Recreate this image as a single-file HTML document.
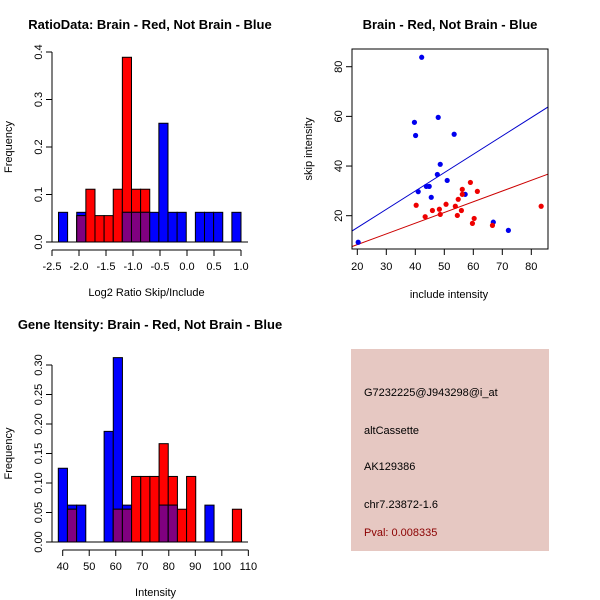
<!DOCTYPE html>
<html><head><meta charset="utf-8"><style>
body{margin:0;background:#fff}
svg{display:block;font-family:"Liberation Sans",sans-serif}
</style></head><body>
<svg id="c" width="600" height="600" xmlns="http://www.w3.org/2000/svg">
<rect width="600" height="600" fill="#fff"/>
</svg>
<script>
// ---- Ratio histogram data ----
const ratioBinStart = -2.38;
const ratioBinWidth = 0.169;
const ratioBlueCounts = [1,0,1,0,0,0,0,1,1,1,1,4,1,1,0,1,1,1,0,1];
const ratioRedCounts  = [0,0,1,2,1,1,2,7,2,2,0,0,0,0,0,0,0,0,0,0];
const ratioXTicks = [-2.5,-2.0,-1.5,-1.0,-0.5,0.0,0.5,1.0];
const ratioXTickLabels = ["-2.5","-2.0","-1.5","-1.0","-0.5","0.0","0.5","1.0"];
const ratioYTicks = [0,0.1,0.2,0.3,0.4];
const ratioYTickLabels = ["0.0","0.1","0.2","0.3","0.4"];
// ---- Intensity histogram data ----
const intBinStart = 38.34;
const intBinWidth = 3.455;
const intBlueCounts = [2,1,1,0,0,3,5,1,0,0,0,1,1,0,0,0,1,0,0,0];
const intRedCounts  = [0,1,0,0,0,0,1,1,2,2,2,3,2,1,2,0,0,0,0,1];
const intXTicks = [40,50,60,70,80,90,100,110];
const intXTickLabels = ["40","50","60","70","80","90","100","110"];
const intYTicks = [0,0.05,0.1,0.15,0.2,0.25,0.3];
const intYTickLabels = ["0.00","0.05","0.10","0.15","0.20","0.25","0.30"];
// ---- Scatter data ----
const blueInclude = [42.2,39.7,40.1,47.9,53.4,48.6,47.6,51.0,43.8,44.8,41.0,45.5,57.2,66.9,72.1,20.3];
const blueSkip    = [83.8,57.6,52.3,59.6,52.8,40.7,36.6,34.2,31.8,31.8,29.7,27.4,28.6,17.4,14.1,9.3];
const redInclude  = [40.3,43.4,45.9,48.3,48.6,50.6,53.8,54.8,54.5,55.9,56.2,56.2,59.0,61.4,60.3,59.7,66.6,83.4];
const redSkip     = [24.2,19.6,22.1,22.6,20.5,24.6,23.8,26.6,20.1,22.1,30.6,28.6,33.4,29.8,18.9,16.9,16.1,23.8];
const fitIntercepts = [0.4,-0.27];   // blue, red
const fitSlopes = [0.739,0.4315];
const scXTicks = [20,30,40,50,60,70,80];
const scYTicks = [20,40,60,80];

const NS="http://www.w3.org/2000/svg";
const svg=document.getElementById('c');
function mk(tag,attrs,parent){const e=document.createElementNS(NS,tag);for(const k in attrs)e.setAttribute(k,attrs[k]);(parent||svg).appendChild(e);return e;}
function txt(s,x,y,size,anchor,rot,parent,weight,fill){const t=mk('text',{x:x,y:y,'font-size':size,'text-anchor':anchor||'middle',fill:fill||'#000'},parent);if(weight)t.setAttribute('font-weight',weight);if(rot)t.setAttribute('transform','rotate(-90 '+x+' '+y+')');t.textContent=s;return t;}

function histogram(cfg){
  const g=mk('g',{});
  
  
  const xs=v=>cfg.xorg+(v-cfg.xmin)*cfg.xscale;
  const ys=v=>cfg.y0-(v-0)*cfg.yscale;
  const nb=cfg.blue.reduce((a,b)=>a+b,0), nr=cfg.red.reduce((a,b)=>a+b,0);
  for(let i=0;i<cfg.blue.length;i++){
    const l=xs(cfg.start+i*cfg.width), r=xs(cfg.start+(i+1)*cfg.width);
    const fb=cfg.blue[i]/nb, fr=cfg.red[i]/nr;
    const bars=[[fb,'#0000ff','blue'],[fr,'#ff0000','red']].sort((a,b)=>b[0]-a[0]);
    for(const [f,col,nm] of bars){ if(f<=0) continue;
      const rc=mk('rect',{x:l,y:ys(f),width:r-l,height:ys(0)-ys(f),fill:col,stroke:'#000','stroke-width':1},g);
      
      
    }
    if(fb>0&&fr>0){const m=Math.min(fb,fr);
      const rc=mk('rect',{x:l,y:ys(m),width:r-l,height:ys(0)-ys(m),fill:'#800080',stroke:'#000','stroke-width':1},g);
      
      }
  }
  mk('line',{x1:cfg.x0,x2:cfg.x1,y1:ys(0),y2:ys(0),stroke:'#000'},g);
  const ya=mk('g',{},g);
  const yt=cfg.yticks;
  mk('line',{x1:cfg.yax,x2:cfg.yax,y1:ys(yt[0]),y2:ys(yt[yt.length-1]),stroke:'#000'},ya);
  yt.forEach((v,i)=>{mk('line',{x1:cfg.yax-6,x2:cfg.yax,y1:ys(v),y2:ys(v),stroke:'#000'},ya);
    txt(cfg.ylabels[i],cfg.yax-10,ys(v),11,'middle',true,ya);});
  const xa=mk('g',{},g);
  const xt=cfg.xticks;
  mk('line',{x1:xs(xt[0]),x2:xs(xt[xt.length-1]),y1:cfg.xax,y2:cfg.xax,stroke:'#000'},xa);
  xt.forEach((v,i)=>{mk('line',{x1:xs(v),x2:xs(v),y1:cfg.xax,y2:cfg.xax+6,stroke:'#000'},xa);
    txt(cfg.xlabels[i],xs(v),cfg.xax+20,11,'middle',false,xa);});
  const xt2=txt(cfg.xtitle,(xs(xt[0])+xs(xt[xt.length-1]))/2,cfg.xax+46,11,'middle',false,g);
  
  const yt2=txt('Frequency',12,(ys(yt[0])+ys(yt[yt.length-1]))/2,11,'middle',true,g);
  
  const tt=txt(cfg.title,150,cfg.titleY,13,'middle',false,g,'bold');
  
}

histogram({name:'ratio-histogram',x0:52,x1:248,xorg:52,xmin:-2.5,xscale:54,y0:242,yscale:475,
  start:ratioBinStart,width:ratioBinWidth,blue:ratioBlueCounts,red:ratioRedCounts,
  yax:52,xax:250,yticks:ratioYTicks,ylabels:ratioYTickLabels,xticks:ratioXTicks,xlabels:ratioXTickLabels,
  xtitle:'Log2 Ratio Skip/Include',title:'RatioData: Brain - Red, Not Brain - Blue',titleY:29});
histogram({name:'intensity-histogram',x0:52,x1:248,xorg:62.7,xmin:40,xscale:2.652,y0:542,yscale:590,
  start:intBinStart,width:intBinWidth,blue:intBlueCounts,red:intRedCounts,
  yax:52,xax:550,yticks:intYTicks,ylabels:intYTickLabels,xticks:intXTicks,xlabels:intXTickLabels,
  xtitle:'Intensity',title:'Gene Itensity: Brain - Red, Not Brain - Blue',titleY:329});

// ---- Scatter ----
(function(){
  const g=mk('g',{});
  const L=352,R=548,T=49,B=249;
  const xs=v=>357.3+(v-20)*2.9, ys=v=>215.7-(v-20)*2.483;
  const tt=txt('Brain - Red, Not Brain - Blue',450,29,13,'middle',false,g,'bold');
  
  const cp=mk('clipPath',{id:'sc'},g);mk('rect',{x:L,y:T,width:R-L,height:B-T},cp);
  const cols=['#0000cc','#cc0000'];
  for(let k=0;k<2;k++){const xa=18,xb=86;
    const ln=mk('line',{x1:xs(xa),y1:ys(fitIntercepts[k]+fitSlopes[k]*xa),x2:xs(xb),y2:ys(fitIntercepts[k]+fitSlopes[k]*xb),stroke:cols[k],'stroke-width':1,'clip-path':'url(#sc)'},g);
    }
  blueInclude.forEach((v,i)=>{const c=mk('circle',{cx:xs(v),cy:ys(blueSkip[i]),r:2.6,fill:'#0000ee'},g);
    });
  redInclude.forEach((v,i)=>{const c=mk('circle',{cx:xs(v),cy:ys(redSkip[i]),r:2.6,fill:'#ee0000'},g);
    });
  const fr=mk('rect',{x:L,y:T,width:R-L,height:B-T,fill:'none',stroke:'#000'},g);
  
  const xa=mk('g',{},g);
  scXTicks.forEach(v=>{mk('line',{x1:xs(v),x2:xs(v),y1:B,y2:B+6,stroke:'#000'},xa);txt(String(v),xs(v),B+21,11,'middle',false,xa);});
  const ya=mk('g',{},g);
  scYTicks.forEach(v=>{mk('line',{x1:L-6,x2:L,y1:ys(v),y2:ys(v),stroke:'#000'},ya);txt(String(v),L-10,ys(v),11,'middle',true,ya);});
  const a=txt('include intensity',449,298,11,'middle',false,g);
  const b=txt('skip intensity',312,149,11,'middle',true,g);
})();

// ---- Info box ----
(function(){
  const g=mk('g',{});
  mk('rect',{x:351,y:349,width:198,height:202,fill:'#e6c8c2'},g);
  const lines=[['G7232225@J943298@i_at',396,'#000'],['altCassette',434,'#000'],['AK129386',470,'#000'],['chr7.23872-1.6',508,'#000'],['Pval: 0.008335',536,'#8b0000']];
  const names=['probe-id','event-type','accession','location','p-value'];
  lines.forEach((l,i)=>{const t=txt(l[0],364,l[1],11,'start',false,g,null,l[2]);
    });
})();
</script>
</body></html>
